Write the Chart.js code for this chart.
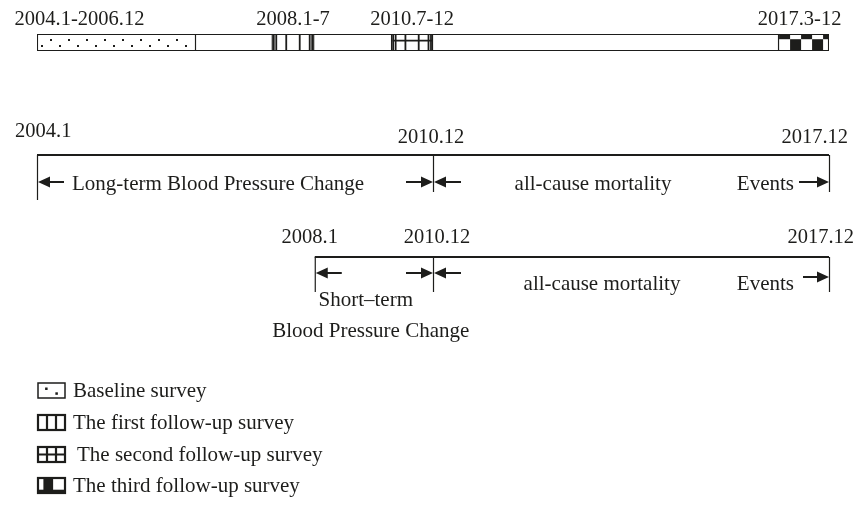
<!DOCTYPE html>
<html>
<head>
<meta charset="utf-8">
<script src="https://cdn.jsdelivr.net/npm/chart.js@4.4.1/dist/chart.umd.min.js"></script>
<style>
  html, body { margin: 0; padding: 0; background: #fff; }
</style>
</head>
<body>
<canvas id="timeline" width="856" height="506"></canvas>
<script>
// survey waves on the top bar (decimal years)
const surveyNames = ['Baseline survey', 'The first follow-up survey', 'The second follow-up survey', 'The third follow-up survey'];
const surveyLabels = ['2004.1-2006.12', '2008.1-7', '2010.7-12', '2017.3-12'];
const surveyStart = [2004.0, 2008.15, 2010.26, 2017.1];
const surveyEnd = [2006.81, 2008.9, 2011.0, 2018.0];
const studySpan = [2004.0, 2018.0];

// follow-up windows
const longTermPoints = [2004.0, 2011.0, 2018.0];
const longTermLabels = ['2004.1', '2010.12', '2017.12'];
const shortTermPoints = [2008.91, 2011.0, 2018.0];
const shortTermLabels = ['2008.1', '2010.12', '2017.12'];

const INK = '#1d1d1b';
const DATE_FONT = '20.5px "Liberation Serif", "DejaVu Serif", serif';
const WORD_FONT = '21px "Liberation Serif", "DejaVu Serif", serif';

//pattern fills for the survey boxes
function drawDots(ctx, l, t, w, h) {
    ctx.fillStyle = INK;
    let k = 0;
    for (let x = l + 4; x < l + w - 2; x += 9) {
        const y = (k % 2 === 0) ? t + h * 0.72 : t + h * 0.32;
        ctx.fillRect(Math.round(x) - 1, Math.round(y) - 1, 2, 2);
        k++;
    }
}

function drawColumns(ctx, l, t, w, h, withRow) {
    ctx.strokeStyle = INK;
    ctx.lineWidth = 1.8;
    const xs = [l + 1, l + 3.5, l + w / 3, l + 2 * w / 3, l + w - 3.5, l + w - 1];
    ctx.beginPath();
    xs.forEach(x => {
        ctx.moveTo(x, t);
        ctx.lineTo(x, t + h);
    });
    if (withRow) {
        ctx.moveTo(l, t + h * 0.38);
        ctx.lineTo(l + w, t + h * 0.38);
    }
    ctx.stroke();
}

function drawChecker(ctx, l, t, w, h) {
    ctx.fillStyle = INK;
    const cell = 11;
    const split = t + h * 0.28;
    let k = 0;
    for (let x = l; x < l + w; x += cell) {
        const cw = Math.min(cell, l + w - x);
        if (k % 2 === 0) ctx.fillRect(x, t, cw, split - t);
        else ctx.fillRect(x, split, cw, t + h - split);
        k++;
    }
}

function drawPattern(ctx, i, l, t, w, h) {
    if (i === 0) drawDots(ctx, l, t, w, h);
    else if (i === 1) drawColumns(ctx, l, t, w, h, false);
    else if (i === 2) drawColumns(ctx, l, t, w, h, true);
    else drawChecker(ctx, l, t, w, h);
}

// small key boxes under the chart
function legendIcon(ctx, i, l, t, w, h) {
    ctx.strokeStyle = INK;
    ctx.fillStyle = INK;
    ctx.lineWidth = i === 0 ? 1.5 : 2.2;
    ctx.strokeRect(l, t, w, h);
    ctx.beginPath();
    if (i === 0) {
        ctx.fillRect(l + w * 0.3 - 1, t + h * 0.3, 2.5, 2.5);
        ctx.fillRect(l + w * 0.68 - 1, t + h * 0.62, 2.5, 2.5);
    } else if (i === 1 || i === 2) {
        ctx.moveTo(l + w / 3, t);
        ctx.lineTo(l + w / 3, t + h);
        ctx.moveTo(l + 2 * w / 3, t);
        ctx.lineTo(l + 2 * w / 3, t + h);
        if (i === 2) {
            ctx.moveTo(l, t + h / 2);
            ctx.lineTo(l + w, t + h / 2);
        }
        ctx.stroke();
    } else {
        ctx.fillRect(l + w * 0.2, t, w * 0.36, h * 0.8);
        ctx.fillRect(l, t + h * 0.78, w, h * 0.22);
    }
}

function arrow(ctx, x1, x2, y) {
    // shaft from x1 to the head at x2
    const dir = x2 > x1 ? 1 : -1;
    ctx.strokeStyle = INK;
    ctx.fillStyle = INK;
    ctx.lineWidth = 2;
    ctx.beginPath();
    ctx.moveTo(x1, y);
    ctx.lineTo(x2 - dir * 8, y);
    ctx.stroke();
    ctx.beginPath();
    ctx.moveTo(x2, y);
    ctx.lineTo(x2 - dir * 12, y - 5.5);
    ctx.lineTo(x2 - dir * 12, y + 5.5);
    ctx.closePath();
    ctx.fill();
}

function text(ctx, str, x, y, align, font) {
    ctx.fillStyle = INK;
    ctx.font = font || WORD_FONT;
    ctx.textAlign = align || 'center';
    ctx.textBaseline = 'alphabetic';
    ctx.fillText(str, x, y);
}

function bracket(ctx, xs, lineY, tickEnds) {
    ctx.strokeStyle = INK;
    ctx.lineWidth = 2.2;
    ctx.beginPath();
    ctx.moveTo(xs[0], lineY);
    ctx.lineTo(xs[2], lineY);
    ctx.stroke();
    ctx.lineWidth = 1.2;
    ctx.beginPath();
    xs.forEach((x, i) => {
        ctx.moveTo(x + 0.5, lineY);
        ctx.lineTo(x + 0.5, tickEnds[i]);
    });
    ctx.stroke();
}

const timelinePlugin = {
    id: 'timelineDetails',
    afterDatasetsDraw(chart) {
        const ctx = chart.ctx;
        const xs = chart.scales.x;
        ctx.save();

        // patterns inside the survey bars + their period labels
        surveyNames.forEach((name, i) => {
            const el = chart.getDatasetMeta(i).data[0];
            const l = Math.min(el.x, el.base);
            const r = Math.max(el.x, el.base);
            const t = el.y - el.height / 2;
            drawPattern(ctx, i, l + 1, t + 1, r - l - 2, el.height - 2);
            const shift = i === 0 ? -37 : (i === 3 ? -4 : 0);
            text(ctx, surveyLabels[i], (l + r) / 2 + shift, 25, 'center', DATE_FONT);
        });

        // long-term window
        const lp = longTermPoints.map(v => xs.getPixelForValue(v));
        bracket(ctx, lp, 155, [200, 192, 192]);
        text(ctx, longTermLabels[0], lp[0] - 22, 137, 'left', DATE_FONT);
        text(ctx, longTermLabels[1], lp[1] - 2, 143, 'center', DATE_FONT);
        text(ctx, longTermLabels[2], lp[2] + 19, 143, 'right', DATE_FONT);
        arrow(ctx, lp[0] + 27, lp[0] + 1, 182);
        text(ctx, 'Long-term Blood Pressure Change', lp[0] + 35, 190, 'left');
        arrow(ctx, lp[1] - 27, lp[1], 182);
        arrow(ctx, lp[1] + 28, lp[1] + 1, 182);
        text(ctx, 'all-cause mortality', lp[1] + 160, 190);
        text(ctx, 'Events', lp[2] - 35, 190, 'right');
        arrow(ctx, lp[2] - 30, lp[2], 182);

        // short-term window
        const sp = shortTermPoints.map(v => xs.getPixelForValue(v));
        bracket(ctx, sp, 257, [292, 292, 292]);
        text(ctx, shortTermLabels[0], sp[0] - 5, 243, 'center', DATE_FONT);
        text(ctx, shortTermLabels[1], sp[1] + 4, 243, 'center', DATE_FONT);
        text(ctx, shortTermLabels[2], sp[2] + 25, 243, 'right', DATE_FONT);
        arrow(ctx, sp[0] + 27, sp[0] + 1, 273);
        arrow(ctx, sp[1] - 27, sp[1], 273);
        arrow(ctx, sp[1] + 28, sp[1] + 1, 273);
        text(ctx, 'Short\u2013term', sp[0] + 51, 306);
        text(ctx, 'Blood Pressure Change', sp[0] + 56, 337);
        text(ctx, 'all-cause mortality', sp[1] + 169, 290);
        text(ctx, 'Events', sp[2] - 35, 290, 'right');
        arrow(ctx, sp[2] - 26, sp[2], 277);

        // legend of the survey waves
        const legendBase = [397, 429, 461, 492];
        const legendTextX = [73, 73, 77, 73];
        surveyNames.forEach((name, i) => {
            legendIcon(ctx, i, 38, legendBase[i] - 14, 27, 15);
            text(ctx, name, legendTextX[i], legendBase[i], 'left');
        });

        ctx.restore();
    }
};

const surveySets = surveyNames.map((name, i) => ({
    label: name,
    data: [[surveyStart[i], surveyEnd[i]]],
    backgroundColor: '#ffffff',
    borderColor: INK,
    borderWidth: 1.4,
    borderSkipped: false,
    grouped: false,
    order: 0,
    barPercentage: 1,
    categoryPercentage: 1
}));

new Chart(document.getElementById('timeline'), {
    type: 'bar',
    data: {
        labels: ['Surveys'],
        datasets: surveySets.concat([{
            label: 'Study period',
            data: [studySpan],
            backgroundColor: '#ffffff',
            borderColor: INK,
            borderWidth: 1.4,
            borderSkipped: false,
            grouped: false,
            order: 1,
            barPercentage: 1,
            categoryPercentage: 1
        }])
    },
    options: {
        indexAxis: 'y',
        responsive: false,
        animation: false,
        devicePixelRatio: 1,
        layout: { padding: { left: 37, right: 27, top: 34, bottom: 455 } },
        scales: {
            x: { type: 'linear', min: studySpan[0], max: studySpan[1], display: false },
            y: { display: false }
        },
        plugins: {
            legend: { display: false },
            tooltip: { enabled: false }
        }
    },
    plugins: [timelinePlugin]
});
</script>
</body>
</html>
